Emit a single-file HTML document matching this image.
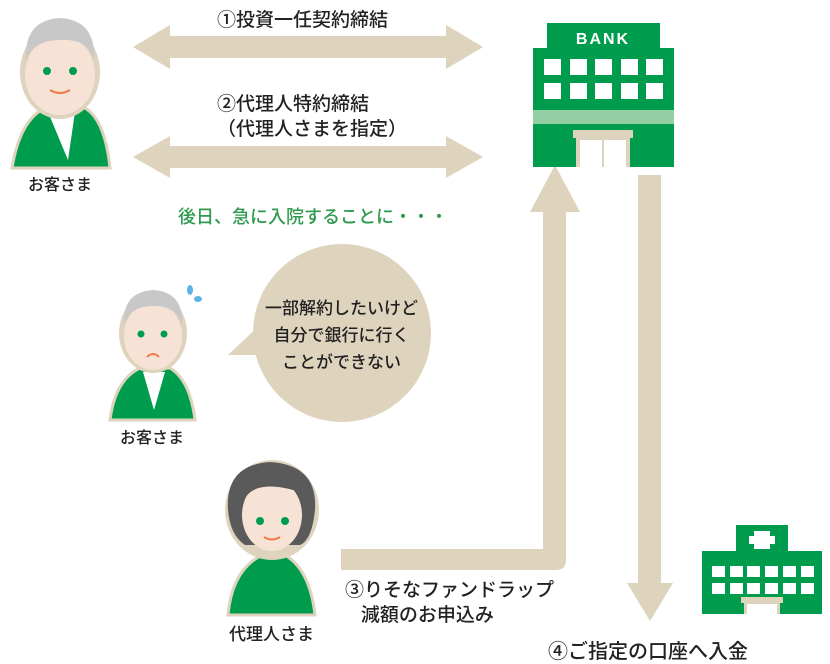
<!DOCTYPE html>
<html><head><meta charset="utf-8"><style>
body{margin:0;width:830px;height:664px;background:#fff;overflow:hidden;position:relative;font-family:"Liberation Sans","Noto Sans CJK JP",sans-serif;}
.t{position:absolute;font-size:19px;color:#222;white-space:nowrap;font-weight:500;}
</style></head><body>
<svg width="830" height="664" style="position:absolute;left:0;top:0">
<g fill="#ded3bd">
<polygon points="133,47 170,25 170,36 446,36 446,25 483,47 446,69 446,58 170,58 170,69"/>
<polygon points="133,157 170,136 170,146 446,146 446,136 483,157 446,178 446,168 170,168 170,178"/>
<path d="M341,549 H543 V212 H530 L555,165 L580,212 H566 V560 Q566,570 556,570 H341 Z"/>
<polygon points="638,175 661,175 661,583 673,583 650,621 627,583 638,583"/>
<circle cx="342" cy="333" r="89"/>
<polygon points="228,355 265,320 275,355"/>
</g>
<g>
<rect x="547" y="23" width="113" height="27" fill="#009c4e"/>
<rect x="533" y="48" width="141" height="119" fill="#009c4e"/>
<rect x="533" y="110" width="141" height="14" fill="#93cfa2"/>
<g fill="#fff">
<rect x="544" y="59" width="17" height="16"/><rect x="570" y="59" width="17" height="16"/><rect x="595" y="59" width="17" height="16"/><rect x="621" y="59" width="17" height="16"/><rect x="646" y="59" width="17" height="16"/>
<rect x="544" y="83" width="17" height="16"/><rect x="570" y="83" width="17" height="16"/><rect x="595" y="83" width="17" height="16"/><rect x="621" y="83" width="17" height="16"/><rect x="646" y="83" width="17" height="16"/>
</g>
<rect x="573" y="130" width="60" height="8" fill="#ded3bd"/>
<rect x="576" y="138" width="54" height="29" fill="#ded3bd"/>
<rect x="580" y="140" width="46" height="27" fill="#fff"/>
<rect x="602" y="138" width="2" height="29" fill="#ded3bd"/>
<text x="603" y="44" text-anchor="middle" fill="#fff" font-size="16" font-weight="bold" font-family="Liberation Sans" letter-spacing="2">BANK</text>
</g>
<g>
<rect x="736" y="525" width="52" height="30" fill="#009c4e"/>
<rect x="702" y="551" width="120" height="63" fill="#009c4e"/>
<rect x="754" y="531" width="16" height="18" fill="#fff"/><rect x="749" y="536" width="26" height="8" fill="#fff"/>
<g fill="#fff">
<rect x="712" y="566" width="13" height="11"/><rect x="730" y="566" width="13" height="11"/><rect x="747" y="566" width="13" height="11"/><rect x="765" y="566" width="13" height="11"/><rect x="783" y="566" width="13" height="11"/><rect x="801" y="566" width="13" height="11"/>
<rect x="712" y="583" width="13" height="11"/><rect x="730" y="583" width="13" height="11"/><rect x="747" y="583" width="13" height="11"/><rect x="765" y="583" width="13" height="11"/><rect x="783" y="583" width="13" height="11"/><rect x="801" y="583" width="13" height="11"/>
</g>
<rect x="741" y="597" width="42" height="6" fill="#ded3bd"/>
<rect x="744" y="603" width="36" height="11" fill="#ded3bd"/><rect x="747" y="604" width="30" height="10" fill="#fff"/>
</g>
<g>
<path d="M12,168 Q20,120 45,108 L85,108 Q105,120 110,168 Z" fill="#009c4e" stroke="#ded3bd" stroke-width="3"/>
<path d="M48,112 L62,112 L75,112 L68,160 Z" fill="#fff"/>
<ellipse cx="60" cy="72" rx="40" ry="47" fill="#ded3bd"/>
<ellipse cx="60" cy="75" rx="35" ry="40" fill="#f7e2d6"/>
<path d="M26,60 Q24,20 60,18 Q96,20 94,60 Q88,38 60,40 Q34,40 26,60Z" fill="#c8c8c8"/>
<circle cx="47" cy="71" r="4" fill="#009c4e"/><circle cx="73" cy="71" r="4" fill="#009c4e"/>
<path d="M50,90 Q60,96 70,90" stroke="#f07a4a" stroke-width="2" fill="none"/>
</g>
<g>
<path d="M110,420 Q115,380 140,368 L170,368 Q190,380 195,420 Z" fill="#009c4e" stroke="#ded3bd" stroke-width="3"/>
<path d="M143,372 L165,372 L154,410 Z" fill="#fff"/>
<ellipse cx="153" cy="333" rx="34" ry="40" fill="#ded3bd"/>
<ellipse cx="153" cy="336" rx="29" ry="34" fill="#f7e2d6"/>
<path d="M124,325 Q122,292 153,290 Q184,292 182,325 Q176,305 153,306 Q130,306 124,325Z" fill="#c8c8c8"/>
<circle cx="141" cy="334" r="3.5" fill="#009c4e"/><circle cx="164" cy="334" r="3.5" fill="#009c4e"/>
<path d="M147,357 Q153,351 159,357" stroke="#f07a4a" stroke-width="2" fill="none"/>
<ellipse cx="190" cy="290" rx="3" ry="5" fill="#5bb4e5"/><ellipse cx="198" cy="299" rx="4" ry="3" fill="#5bb4e5"/>
</g>
<g>
<path d="M228,615 Q232,570 262,555 L285,555 Q310,570 315,615 Z" fill="#009c4e" stroke="#ded3bd" stroke-width="3"/>
<ellipse cx="272" cy="510" rx="47" ry="50" fill="#ded3bd"/>
<path d="M228,510 Q225,465 270,462 Q318,465 315,510 Q312,540 300,545 L245,545 Q230,535 228,510Z" fill="#5a5a5a"/>
<ellipse cx="272" cy="515" rx="30" ry="36" fill="#f7e2d6"/>
<path d="M244,500 Q255,478 300,492 L300,480 Q270,470 244,480Z" fill="#5a5a5a"/>
<circle cx="260" cy="521" r="4" fill="#009c4e"/><circle cx="285" cy="521" r="4" fill="#009c4e"/>
<path d="M264,537 Q272,542 280,537" stroke="#f07a4a" stroke-width="2" fill="none"/>
</g>
</svg>
<div class="t" style="left:217px;top:5px">①投資一任契約締結</div>
<div class="t" style="left:217px;top:92px;line-height:25px">②代理人特約締結<br>（代理人さまを指定）</div>
<div class="t" style="left:178px;top:203px;color:#2e9a4e;font-size:18px">後日、急に入院することに・・・</div>
<div class="t" style="left:265px;top:295px;line-height:27px;text-align:center;font-size:17px">一部解約したいけど<br>自分で銀行に行く<br>ことができない</div>
<div class="t" style="left:28px;top:171px;font-size:16px">お客さま</div>
<div class="t" style="left:120px;top:424px;font-size:16px">お客さま</div>
<div class="t" style="left:229px;top:620px;font-size:17px">代理人さま</div>
<div class="t" style="left:345px;top:578px;line-height:25px">③りそなファンドラップ<br>&nbsp;&nbsp;&nbsp;減額のお申込み</div>
<div class="t" style="left:548px;top:635px;font-size:20px">④ご指定の口座へ入金</div>
</body></html>
